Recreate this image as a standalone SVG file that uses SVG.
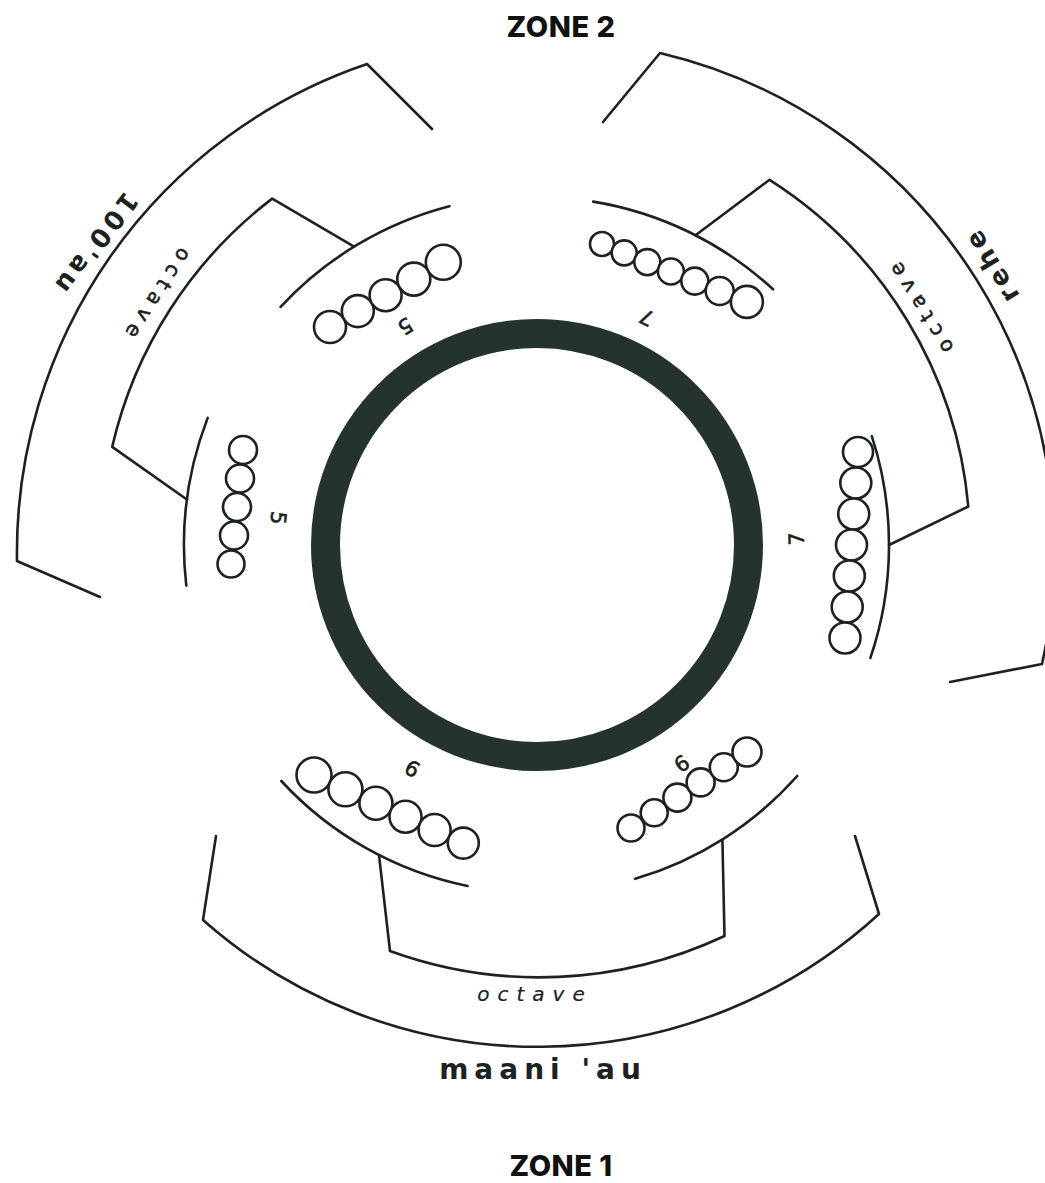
<svg xmlns="http://www.w3.org/2000/svg" width="1045" height="1183" viewBox="0 0 1045 1183">
  <style>
    .ln { fill: none; stroke: #1d2220; stroke-width: 2.6; stroke-linecap: round; stroke-linejoin: round; }
    .bead { fill: #ffffff; stroke: #1d2220; stroke-width: 2.6; }
    .lbl { font-family: "DejaVu Sans", "Liberation Sans", sans-serif; font-weight: bold; font-size: 26px; letter-spacing: 4px; fill: #1d2220; text-anchor: middle; }
    .big { font-size: 28px; letter-spacing: 6px; }
    .oct { font-family: "DejaVu Sans", "Liberation Sans", sans-serif; font-size: 20px; letter-spacing: 7px; fill: #1d2220; stroke: #1d2220; stroke-width: 0.6; text-anchor: middle; }
    .octi { font-style: italic; letter-spacing: 8px; stroke-width: 0.2; }
    .num { font-family: "DejaVu Sans", "Liberation Sans", sans-serif; font-size: 21px; fill: #1d2220; stroke: #1d2220; stroke-width: 0.6; text-anchor: middle; }
    .zone { font-family: Inter, "Liberation Sans", sans-serif; font-weight: 800; font-size: 29px; letter-spacing: 0.5px; fill: #111111; text-anchor: middle; }
  </style>
  <rect width="1045" height="1183" fill="#ffffff"/>

  <g id="zone2"><text class="zone" x="561" y="37">ZONE 2</text></g>
  <g id="zone1"><text class="zone" x="561" y="1176">ZONE 1</text></g>

  <g id="ring"><circle cx="537" cy="545" r="211.5" fill="none" stroke="#25332f" stroke-width="29"/></g>

  <!-- bead groups -->
  <g id="group-ul">
    <path class="ln" d="M280.6,306.8 A350,350 0 0 1 449.4,206.2"/>
    <circle class="bead" cx="330" cy="327" r="16"/>
    <circle class="bead" cx="357.8" cy="311.1" r="16"/>
    <circle class="bead" cx="385.6" cy="295.2" r="16"/>
    <circle class="bead" cx="413.8" cy="279.1" r="16.5"/>
    <circle class="bead" cx="443.3" cy="262.2" r="17.5"/>
    <text class="num" transform="translate(405,326) rotate(149)" y="7">5</text>
  </g>
  <g id="group-l">
    <path class="ln" d="M186.3,585.6 A353,353 0 0 1 207.7,417.9"/>
    <circle class="bead" cx="243" cy="450" r="14"/>
    <circle class="bead" cx="240" cy="478.5" r="14"/>
    <circle class="bead" cx="237" cy="507" r="14"/>
    <circle class="bead" cx="234" cy="535.5" r="14"/>
    <circle class="bead" cx="231" cy="564" r="13.5"/>
    <text class="num" transform="translate(278,518) rotate(96)" y="7">5</text>
  </g>
  <g id="group-tr">
    <path class="ln" d="M593.2,201.6 A348,348 0 0 1 773,289.3"/>
    <circle class="bead" cx="602" cy="244" r="12"/>
    <circle class="bead" cx="624.2" cy="252.9" r="12.5"/>
    <circle class="bead" cx="647.3" cy="262.1" r="13"/>
    <circle class="bead" cx="670.9" cy="271.5" r="13"/>
    <circle class="bead" cx="694.8" cy="281.1" r="13.5"/>
    <circle class="bead" cx="719.7" cy="291" r="14"/>
    <circle class="bead" cx="746.9" cy="301.9" r="16"/>
    <text class="num" transform="translate(647,317) rotate(-154)" y="7">7</text>
  </g>
  <g id="group-r">
    <path class="ln" d="M871.8,436.2 A352,352 0 0 1 870.4,657.9"/>
    <circle class="bead" cx="858" cy="452" r="15"/>
    <circle class="bead" cx="855.8" cy="483" r="15.5"/>
    <circle class="bead" cx="853.7" cy="514" r="15.5"/>
    <circle class="bead" cx="851.5" cy="545" r="15.5"/>
    <circle class="bead" cx="849.3" cy="576" r="15.5"/>
    <circle class="bead" cx="847.2" cy="607" r="15.5"/>
    <circle class="bead" cx="845" cy="638" r="15.5"/>
    <text class="num" transform="translate(797,539) rotate(-91)" y="7">7</text>
  </g>
  <g id="group-ll">
    <path class="ln" d="M467.6,886 A348,348 0 0 1 281.3,781"/>
    <circle class="bead" cx="314" cy="775" r="17.5"/>
    <circle class="bead" cx="345.4" cy="789.3" r="17"/>
    <circle class="bead" cx="375.9" cy="803.2" r="16.5"/>
    <circle class="bead" cx="405.5" cy="816.7" r="16"/>
    <circle class="bead" cx="434.6" cy="830" r="16"/>
    <circle class="bead" cx="463.3" cy="843.1" r="15.5"/>
    <text class="num" transform="translate(412,769) rotate(29)" y="7">6</text>
  </g>
  <g id="group-lr">
    <path class="ln" d="M797.2,776 A348,348 0 0 1 635.2,878.8"/>
    <circle class="bead" cx="631" cy="828" r="13.5"/>
    <circle class="bead" cx="654.2" cy="812.8" r="13.5"/>
    <circle class="bead" cx="677.4" cy="797.6" r="14"/>
    <circle class="bead" cx="700.6" cy="782.4" r="14"/>
    <circle class="bead" cx="723.8" cy="767.2" r="14"/>
    <circle class="bead" cx="747" cy="752" r="14.5"/>
    <text class="num" transform="translate(682,764) rotate(-33)" y="7">6</text>
  </g>

  <!-- brackets -->
  <g id="connectors">
    <path id="oct-ul" class="ln" d="M354.1,246.6 L272.2,198.6 A436,436 0 0 0 112.2,446.9 L186.9,499.5"/>
    <path id="oct-ur" class="ln" d="M695.5,235.2 L769.6,179.8 A433,433 0 0 1 968.3,506.5 L889,545"/>
    <path id="oct-b" class="ln" d="M379,855.1 L390,951 A436,436 0 0 0 724.5,936 L722.4,839.5"/>
    <path id="outer-ul" class="ln" d="M432,129 L367,64 A516,516 0 0 0 17,561 L100,597"/>
    <path id="outer-ur" class="ln" d="M603,122 L660,53 A512,512 0 0 1 1042,664 L950,682"/>
    <path id="outer-b" class="ln" d="M216,836 L203,920 A505,505 0 0 0 879,914 L855,836"/>
  </g>

  <g id="labels">
    <text class="lbl" transform="translate(94,243) rotate(127)" y="7">100'au</text>
    <text class="lbl" transform="translate(993,264) rotate(-121)" y="7">rehe</text>
    <text class="lbl big" transform="translate(543,1071)" y="8">maani 'au</text>
    <text class="oct" transform="translate(155,295) rotate(123)" y="5">octave</text>
    <text class="oct" transform="translate(921,304) rotate(-122)" y="5">octave</text>
    <text class="oct octi" transform="translate(535,996)" y="5">octave</text>
  </g>
</svg>
